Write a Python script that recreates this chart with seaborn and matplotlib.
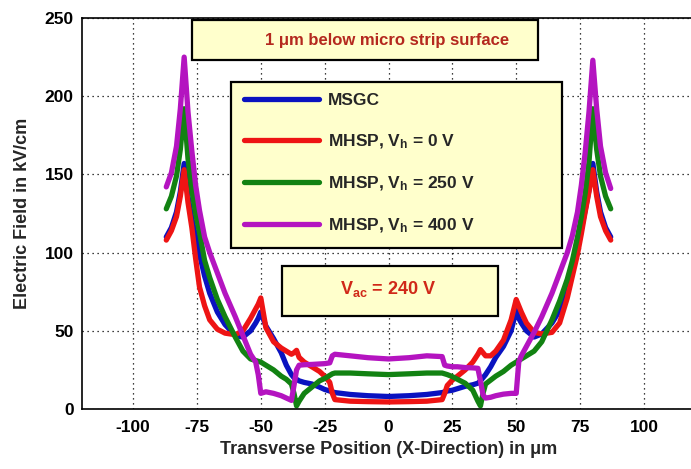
import matplotlib
matplotlib.use("Agg")
import matplotlib.pyplot as plt
import seaborn as sns
import pandas as pd
from matplotlib.patches import Rectangle

# ---------------- data ----------------
x_left = [-87, -85, -83, -81.5, -80, -78.5, -77, -75.5, -74, -72, -70, -67, -64, -60, -57, -54,
          -52, -51, -50, -48, -45, -42, -40, -38, -37, -36, -35, -33, -30, -27, -25, -23, -22,
          -21, -15, -8, 0]
x_right = [8, 15, 21, 22, 23, 25, 27, 30, 33, 35, 36, 37, 38, 40, 42, 45, 48, 50, 51, 52, 54,
           57, 60, 64, 67, 70, 72, 74, 75.5, 77, 78.5, 80, 81.5, 83, 85, 87]

msgc_left = [110, 116, 126, 139, 157, 136, 122, 110, 99, 85, 74, 62, 54, 47, 46, 50, 55, 58, 62,
             53, 45, 36, 28, 22, 20, 19, 18, 17, 16, 14, 12.5, 11.5, 11, 10.5, 9.3, 8.5, 8]
msgc_right = [8.5, 9.3, 10.5, 11, 11.5, 12, 13, 14.5, 15.5, 16.5, 18, 20, 22, 27, 33, 40, 50, 63,
              58, 55, 50, 46, 48, 55, 63, 77, 89, 103, 115, 127, 140, 157, 139, 126, 116, 110]

mhsp0_left = [108, 114, 123, 136, 153, 132, 116, 96, 78, 66, 57, 51, 48.5, 47.5, 50, 58, 64, 67,
              71, 52, 43, 39, 37, 35, 36, 37.5, 33, 30, 27, 24, 21, 17, 10, 6, 5, 4.7, 4.5]
mhsp0_right = [4.7, 5, 6, 10, 15, 18.5, 21, 25, 30, 35, 38, 36, 34, 34, 37, 44, 57, 70, 66, 62,
               55, 49, 48, 49, 55, 71, 85, 99, 112, 126, 139, 153, 136, 123, 114, 108]

mhsp250_left = [128, 136, 149, 166, 192, 160, 140, 125, 113, 95, 84, 70, 59, 46, 37, 32, 31, 30.5,
                30, 28, 25, 21, 19, 16, 10, 2, 5, 10, 14, 18, 19.5, 21.5, 22.5, 23, 23, 22.5, 22]
mhsp250_right = [22.5, 23, 23, 22.5, 22, 20.7, 19, 16.5, 12, 5, 2, 10, 16, 18.5, 21, 24, 28, 30,
                 31, 32, 34, 37, 43, 57, 69, 83, 95, 110, 123, 138, 158, 192, 166, 149, 136, 128]

mhsp400_left = [142, 151, 168, 192, 225, 190, 165, 143, 127, 110, 100, 87, 74, 59, 47, 35, 30, 22,
                10, 11, 10, 8.5, 7, 5.5, 15, 25, 28, 28.3, 28.5, 28.8, 29, 29.5, 34, 35, 34, 32.8, 32]
mhsp400_right = [32.8, 34, 33.5, 28, 27.5, 27, 27, 26.5, 26.3, 26, 18, 9, 7, 7.5, 8.5, 9.5, 10, 10,
                 30, 34, 40, 49, 59, 74, 87, 100, 111, 126, 143, 164, 190, 223, 192, 168, 151, 141]

series_names = ["MSGC", r"MHSP, V$_h$ = 0 V", r"MHSP, V$_h$ = 250 V", r"MHSP, V$_h$ = 400 V"]
series_colors = ["#0a12c0", "#ee1414", "#128212", "#b414c0"]

x_ticks = [-100, -75, -50, -25, 0, 25, 50, 75, 100]
y_ticks = [0, 50, 100, 150, 200, 250]

# ---------------- build long table ----------------
x_all = x_left + x_right
values = [msgc_left + msgc_right, mhsp0_left + mhsp0_right,
          mhsp250_left + mhsp250_right, mhsp400_left + mhsp400_right]
frames = []
for name, vals in zip(series_names, values):
    frames.append(pd.DataFrame({"x": x_all, "E": vals, "series": name}))
df = pd.concat(frames, ignore_index=True)

# ---------------- style ----------------
sns.set_style("white")
plt.rcParams["font.family"] = ["Liberation Sans", "DejaVu Sans"]
plt.rcParams["font.weight"] = "bold"
plt.rcParams["axes.unicode_minus"] = False
plt.rcParams["mathtext.fontset"] = "custom"
plt.rcParams["mathtext.rm"] = "Liberation Sans:bold"
plt.rcParams["mathtext.it"] = "Liberation Sans:bold"
plt.rcParams["mathtext.bf"] = "Liberation Sans:bold"
plt.rcParams["mathtext.sf"] = "Liberation Sans:bold"

W, H = 691, 469
fig = plt.figure(figsize=(W / 100, H / 100), dpi=100)
ax = fig.add_axes([82 / W, (H - 409) / H, 613 / W, 391 / H])

sns.lineplot(data=df, x="x", y="E", hue="series", hue_order=series_names,
             palette=series_colors, linewidth=3.8, estimator=None, sort=True,
             ax=ax, legend=True)

ax.set_xlim(-120, 120)
ax.set_ylim(0, 250)
ax.set_xticks(x_ticks)
ax.set_yticks(y_ticks)
ax.tick_params(direction="in", length=5, width=1, labelsize=12.5, colors="black")
ax.tick_params(axis="x", pad=8)
ax.tick_params(axis="y", pad=6)
for lab in ax.get_xticklabels() + ax.get_yticklabels():
    lab.set_fontweight("bold")
ax.grid(True, color="black", linestyle=(0, (1, 3)), linewidth=0.9)
for sp in ax.spines.values():
    sp.set_color("black")
    sp.set_linewidth(1.2)
ax.set_xlabel("Transverse Position (X-Direction) in μm", fontsize=13, fontweight="bold", labelpad=4)
ax.set_ylabel("Electric Field in kV/cm", fontsize=13, fontweight="bold", labelpad=10)

# legend
handles, labels = ax.get_legend_handles_labels()
ax.get_legend().remove()
for h in handles:
    h.set_linewidth(3.8)
leg = fig.legend(handles, labels, loc="upper left",
                 bbox_to_anchor=(244 / W, 1 - 93 / H), bbox_transform=fig.transFigure,
                 frameon=False, borderpad=0, borderaxespad=0, handlelength=4.3,
                 handletextpad=0.55, labelspacing=1.38, fontsize=12.5)
for t in leg.get_texts():
    t.set_fontweight("bold")

def box(x0, y0, x1, y1):
    fig.add_artist(Rectangle((x0 / W, 1 - y1 / H), (x1 - x0) / W, (y1 - y0) / H,
                             transform=fig.transFigure, facecolor="#ffffcc",
                             edgecolor="black", linewidth=1.6, zorder=2))

box(231, 82, 562, 248)
leg.set_zorder(5)
box(192, 20, 538, 60)
fig.text(387 / W, 1 - 41 / H, "1 μm below micro strip surface", ha="center", va="center",
         fontsize=12, fontweight="bold", color="#b4281e", zorder=5)
box(282, 266, 498, 316)
fig.text(388 / W, 1 - 289 / H, r"V$_{ac}$ = 240 V", ha="center", va="center",
         fontsize=13, fontweight="bold", color="#d02818", zorder=5)

fig.savefig("out.png", dpi=100)
